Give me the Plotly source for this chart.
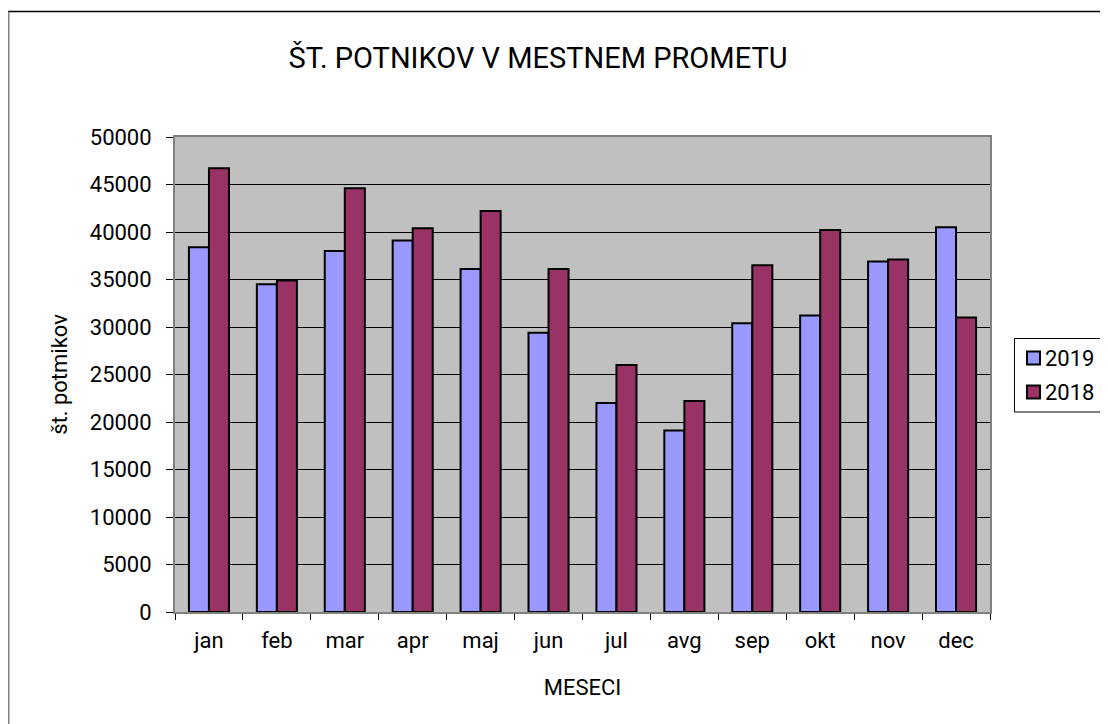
import plotly.graph_objects as go

months = ["jan", "feb", "mar", "apr", "maj", "jun", "jul", "avg", "sep", "okt", "nov", "dec"]
v2019 = [38400, 34500, 38000, 39100, 36100, 29400, 22000, 19100, 30400, 31200, 36900, 40500]
v2018 = [46700, 34900, 44600, 40400, 42200, 36100, 26000, 22200, 36500, 40200, 37100, 31000]
yticks = [0, 5000, 10000, 15000, 20000, 25000, 30000, 35000, 40000, 45000, 50000]
series_names = ["2019", "2018"]
series_colors = ["#9999FF", "#993366"]

FONT = "Roboto, Arial, sans-serif"

fig = go.Figure()
for name, vals, col in zip(series_names, [v2019, v2018], series_colors):
    fig.add_trace(go.Bar(name=name, x=months, y=vals,
                         marker=dict(color=col, line=dict(color="black", width=2))))

# page body has an 8px margin, so the figure is laid out 8px smaller/shifted
OFF = 8
W, H = 1108 - OFF, 724 - OFF
L, T = 175 - OFF, 137 - OFF
R = W - (990 - OFF)
B = H - (612 - OFF)
pw, ph = W - L - R, H - T - B

def px(x):
    return (x - OFF - L) / pw

def py(y):
    return (H - B - (y - OFF)) / ph

fig.update_layout(
    width=W, height=H,
    margin=dict(l=L, r=R, t=T, b=B, autoexpand=False),
    paper_bgcolor="white",
    plot_bgcolor="#C0C0C0",
    barmode="group",
    bargap=0.41,
    bargroupgap=0,
    font=dict(family=FONT, size=22, color="black"),
    title=dict(text="ŠT. POTNIKOV V MESTNEM PROMETU", x=px(538), xref="paper",
               xanchor="center", y=1 - (58 - OFF) / H, yanchor="middle",
               font=dict(family=FONT, size=29, color="black")),
    showlegend=False,
    xaxis=dict(
        type="category",
        tickson="boundaries",
        ticks="outside", ticklen=6, tickcolor="black",
        ticklabelstandoff=8,
        showline=True, linecolor="#808080", linewidth=2, mirror=True,
        showgrid=False,
        tickfont=dict(family=FONT, size=22, color="black"),
        title=dict(text="MESECI", standoff=27, font=dict(family=FONT, size=22, color="black")),
    ),
    yaxis=dict(
        range=[0, 50000],
        tickvals=yticks,
        ticktext=[str(v) for v in yticks],
        ticks="outside", ticklen=7, tickcolor="black",
        ticklabelstandoff=10,
        showline=True, linecolor="#808080", linewidth=2, mirror=True,
        showgrid=True, gridcolor="black", gridwidth=1,
        zeroline=False,
        tickfont=dict(family=FONT, size=22, color="black"),
        title=dict(text="št. potmikov", standoff=16, font=dict(family=FONT, size=22, color="black")),
    ),
)

# outer chart frame (extends beyond the visible window at right/bottom)
fig.add_shape(type="line", xref="paper", yref="paper",
              x0=px(8), x1=px(1130), y0=py(11.5), y1=py(11.5),
              line=dict(color="black", width=1.5))
fig.add_shape(type="line", xref="paper", yref="paper",
              x0=px(8.75), x1=px(8.75), y0=py(11.5), y1=py(760),
              line=dict(color="#808080", width=1.5))

# legend box (Excel style)
fig.add_shape(type="rect", xref="paper", yref="paper",
              x0=px(1014.5), x1=px(1130), y0=py(338.5), y1=py(412),
              line=dict(color="black", width=1), fillcolor="white")
item_y = [358, 392]
for name, col, yc in zip(series_names, series_colors, item_y):
    fig.add_shape(type="rect", xref="paper", yref="paper",
                  x0=px(1027), x1=px(1040), y0=py(yc - 6.5), y1=py(yc + 6.5),
                  line=dict(color="black", width=2), fillcolor=col)
    fig.add_annotation(text=name, xref="paper", yref="paper",
                       x=px(1043), y=py(yc), xanchor="left", yanchor="middle",
                       showarrow=False, font=dict(family=FONT, size=22, color="black"))

fig.write_html("out.html")
